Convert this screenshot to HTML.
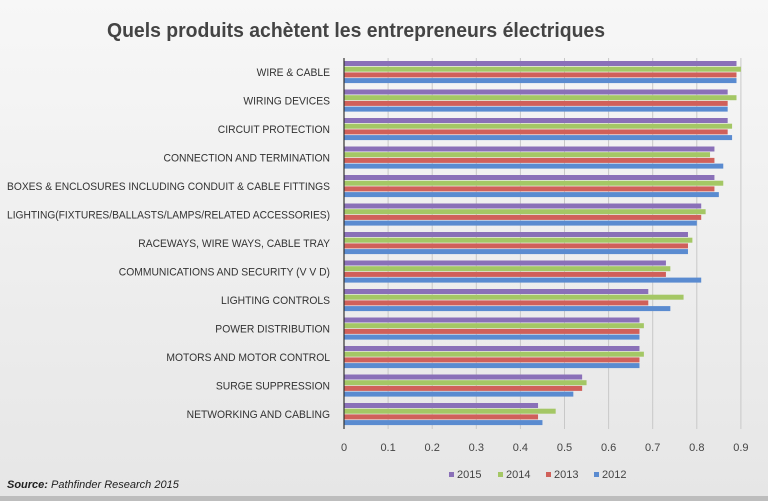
<!DOCTYPE html><html><head><style>
body{margin:0;background:#fff}
svg{display:block}
text{font-family:"Liberation Sans",sans-serif}
</style></head><body>
<svg width="768" height="501" viewBox="0 0 768 501">
<defs><linearGradient id="bg" x1="0" y1="0" x2="0" y2="1"><stop offset="0" stop-color="#f7f7f7"/><stop offset="1" stop-color="#e6e6e6"/></linearGradient></defs>
<rect width="768" height="501" fill="url(#bg)"/>
<rect x="0" y="496" width="768" height="5" fill="#bdbdbd"/>
<text x="107" y="37" font-size="20" font-weight="bold" fill="#444" textLength="498" lengthAdjust="spacingAndGlyphs">Quels produits achètent les entrepreneurs électriques</text>
<g id="grid" stroke="#c8c8c8" stroke-width="1"></g>
<g id="bars"></g>
<line x1="344" y1="58" x2="344" y2="429" stroke="#333" stroke-width="1.2"/>
<g id="ticks" font-size="11" fill="#444" text-anchor="middle"></g>
<g transform="translate(330,0) scale(0.94,1) translate(-330,0)"><g id="labels" font-size="11" fill="#333" text-anchor="end"></g></g>
<g font-size="11" fill="#444">
<rect x="449" y="472" width="5" height="5" fill="#8a70b8"/><text x="457" y="478">2015</text>
<rect x="498" y="472" width="5" height="5" fill="#a4c765"/><text x="506" y="478">2014</text>
<rect x="546" y="472" width="5" height="5" fill="#d0605a"/><text x="554" y="478">2013</text>
<rect x="594" y="472" width="5" height="5" fill="#5a8bd0"/><text x="602" y="478">2012</text>
</g>
<text x="7" y="488" font-size="11" font-style="italic" fill="#222"><tspan font-weight="bold">Source:</tspan>  Pathfinder Research 2015</text>
</svg>
<script>
const ns="http://www.w3.org/2000/svg";
function el(t,a,p,txt){const e=document.createElementNS(ns,t);for(const k in a)e.setAttribute(k,a[k]);if(txt!==undefined)e.textContent=txt;document.getElementById(p).appendChild(e);return e;}
const sc=44.1,x0=344;
for(let i=1;i<=9;i++){el("line",{x1:x0+i*sc,y1:58,x2:x0+i*sc,y2:429},"grid");}
for(let i=0;i<=9;i++){el("text",{x:x0+i*sc,y:451},"ticks",i==0?"0":(i/10).toFixed(1));}
const d=[["WIRE & CABLE",.89,.90,.89,.89],["WIRING DEVICES",.87,.89,.87,.87],["CIRCUIT PROTECTION",.87,.88,.87,.88],["CONNECTION AND TERMINATION",.84,.83,.84,.86],["BOXES & ENCLOSURES INCLUDING CONDUIT & CABLE FITTINGS",.84,.86,.84,.85],["LIGHTING(FIXTURES/BALLASTS/LAMPS/RELATED ACCESSORIES)",.81,.82,.81,.80],["RACEWAYS, WIRE WAYS, CABLE TRAY",.78,.79,.78,.78],["COMMUNICATIONS AND SECURITY (V V D)",.73,.74,.73,.81],["LIGHTING CONTROLS",.69,.77,.69,.74],["POWER DISTRIBUTION",.67,.68,.67,.67],["MOTORS AND MOTOR CONTROL",.67,.68,.67,.67],["SURGE SUPPRESSION",.54,.55,.54,.52],["NETWORKING AND CABLING",.44,.48,.44,.45]];
const c=["#8a70b8","#a4c765","#d0605a","#5a8bd0"];
d.forEach((r,g)=>{const y=61+g*28.5;for(let k=0;k<4;k++){el("rect",{x:x0,y:y+k*5.7,width:r[k+1]*sc*10,height:5,fill:c[k]},"bars");}
el("text",{x:330,y:y+15},"labels",r[0]);});
const labs=document.getElementById("labels").children;
for(const t of labs){const w=t.getComputedTextLength()*0.94;if(w>323){t.setAttribute("textLength",323/0.94);t.setAttribute("lengthAdjust","spacingAndGlyphs");}}
</script>
</body></html>
